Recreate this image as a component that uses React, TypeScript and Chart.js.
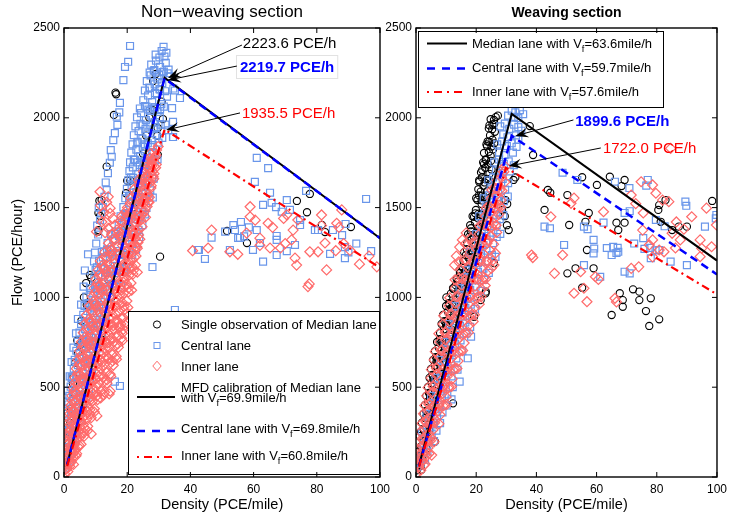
import React, { useEffect, useRef } from 'react';
import { Chart, registerables } from 'chart.js';

Chart.register(...registerables);

const FONT = '"Liberation Sans", Arial, Helvetica, sans-serif';

// ---------- axis ticks ----------
const DENSITY_TICKS = [0, 20, 40, 60, 80, 100];
const FLOW_TICKS = [0, 500, 1000, 1500, 2000, 2500];

// ---------- calibrated MFD lines (density PCE/mile, flow PCE/h) ----------
const leftMedianLineK = [1, 31.81, 100];
const leftMedianLineQ = [69.9, 2223.6, 1330];
const leftCentralLineK = [1, 31.8, 100];
const leftCentralLineQ = [69.8, 2219.7, 1330];
const leftInnerLineK = [1, 31.83, 100];
const leftInnerLineQ = [60.8, 1935.5, 1165];

const rightMedianLineK = [1, 31.8, 100];
const rightMedianLineQ = [63.6, 2022, 1205];
const rightCentralLineK = [1, 31.82, 100];
const rightCentralLineQ = [59.7, 1899.6, 1128];
const rightInnerLineK = [1, 29.9, 100];
const rightInnerLineQ = [57.6, 1722.0, 1017];

// ---------- observations: [density, flow] ----------
const leftMedianObs = [
  [0.3, 78], [0.8, 122], [1.5, 190], [1.5, 250], [2.0, 300], [2.2, 380], [4.0, 280], [2.8, 470], [2.8, 520], [3.0, 560],
  [3.5, 635], [4.4, 690], [4.2, 760], [5.1, 735], [5.5, 870], [6.3, 1000], [7.0, 1080], [6.0, 400], [9.0, 600], [12.0, 800],
  [7.2, 958], [7.6, 950], [8.2, 1125], [8.6, 1110], [15.0, 1000], [14.0, 1100], [18.0, 1200], [10.9, 1375], [10.8, 1366],
  [11.4, 1453], [10.9, 1470], [11.2, 1538], [11.9, 1542], [13.5, 1728], [15.8, 2016], [16.5, 2131], [16.3, 2140],
  [20.0, 1400], [22.0, 1500], [19.6, 1580], [20.0, 1650], [21.0, 1650], [24.6, 1616], [23.4, 1559], [25.0, 1800],
  [26.0, 1900], [27.0, 2000], [29.7, 1793], [29.5, 1900], [29.7, 1943], [31.3, 1993], [28.1, 2043], [30.9, 2090],
  [28.2, 2205], [29.0, 2244], [30.4, 1227], [51.6, 1370], [57.9, 1303], [73.7, 1537], [77.8, 1576], [76.9, 1474],
  [81.6, 1404], [82.6, 1364], [90.8, 1392],
];

const leftCentralObs = [
  [20.9, 2400], [20.3, 2312], [19.3, 2283], [18.8, 2210], [17.7, 2083], [17.5, 2030], [16.9, 1960], [16.7, 2006],
  [16.1, 1915], [15.6, 1876], [15.1, 1783], [14.8, 1820], [14.5, 1750], [13.9, 1692], [13.2, 1640], [13.5, 1598],
  [12.8, 1560], [12.3, 1503], [11.8, 1470], [11.4, 1431], [11.0, 1500], [10.5, 1400], [10.8, 1350], [10.2, 1300],
  [9.8, 1250], [9.5, 1200],
  [31.5, 2395], [30.9, 2372], [31.8, 2341],
  [27.6, 2296], [29.1, 2318], [30.4, 2284], [32.2, 2306], [33.1, 2268], [28.4, 2262], [31.2, 2255],
  [26.2, 2204], [27.4, 2236], [28.7, 2186], [29.6, 2214], [31.1, 2193], [33.4, 2231], [34.6, 2163], [35.1, 2152], [30.2, 2160], [27.0, 2168],
  [25.1, 2098], [26.6, 2124], [27.9, 2087], [29.4, 2133], [30.8, 2076], [36.7, 2110], [34.2, 2054], [32.6, 2118], [26.1, 2062], [28.6, 2058],
  [23.1, 2003], [24.4, 2026], [25.9, 1987], [27.6, 2012], [28.8, 1976], [30.3, 2004], [32.1, 1962], [26.7, 2046], [24.9, 1958], [29.6, 2032],
  [22.1, 1903], [23.6, 1926], [24.8, 1884], [26.4, 1912], [27.9, 1876], [29.3, 1904], [31.1, 1888], [34.5, 1893], [33.0, 1931], [23.2, 1858], [25.6, 1852], [28.4, 1936],
  [21.3, 1806], [22.9, 1823], [24.1, 1787], [25.7, 1813], [26.9, 1776], [28.3, 1804], [29.6, 1768], [23.3, 1752], [22.1, 1768], [27.4, 1838], [25.1, 1756],
  [20.7, 1703], [21.8, 1724], [23.5, 1688], [24.7, 1714], [26.3, 1677], [27.5, 1702], [28.4, 1661], [22.5, 1652], [21.2, 1668], [25.3, 1742], [27.1, 1738],
  [19.9, 1604], [21.4, 1622], [22.9, 1586], [24.6, 1613], [25.8, 1578], [27.3, 1596], [28.1, 1556], [20.6, 1562], [23.6, 1632], [26.4, 1640],
  [18.8, 1503], [20.6, 1524], [21.9, 1487], [23.4, 1513], [24.9, 1476], [26.1, 1498], [19.6, 1458], [22.6, 1544], [25.4, 1538], [20.1, 1470],
  [17.3, 1403], [18.9, 1424], [20.4, 1386], [21.8, 1413], [23.6, 1377], [24.8, 1402], [16.2, 1352], [19.5, 1446], [22.7, 1436], [18.1, 1366],
  [13.8, 1302], [15.6, 1323], [16.9, 1286], [18.4, 1314], [19.8, 1276], [21.6, 1297], [22.8, 1266], [12.6, 1256], [14.6, 1268], [17.4, 1342], [20.6, 1334],
  [11.1, 1204], [12.3, 1223], [13.9, 1187], [15.6, 1213], [16.8, 1176], [18.4, 1198], [19.7, 1166], [12.9, 1158], [14.7, 1243], [17.6, 1236], [10.4, 1168],
  [9.6, 1103], [10.8, 1124], [12.6, 1086], [13.9, 1113], [15.4, 1077], [16.8, 1096], [18.1, 1066], [11.4, 1058], [14.6, 1142], [10.2, 1062],
  [7.1, 1004], [8.4, 1023], [9.9, 987], [11.6, 1012], [12.8, 976], [14.6, 998], [8.9, 958], [10.7, 1046], [13.6, 1040], [7.8, 968],
  [6.1, 903], [7.4, 924], [9.1, 886], [10.4, 913], [11.9, 878], [13.2, 897], [8.2, 858], [9.6, 944], [12.4, 936], [6.8, 862],
  [4.9, 804], [6.6, 823], [7.9, 786], [9.6, 812], [10.8, 777], [12.1, 796], [5.8, 752], [8.7, 842], [11.4, 838], [7.2, 764],
  [3.9, 703], [5.6, 724], [7.1, 687], [8.4, 713], [9.9, 676], [4.8, 658], [6.4, 742], [9.2, 736], [10.6, 716],
  [3.1, 604], [4.4, 623], [5.9, 586], [7.6, 612], [8.8, 577], [2.6, 556], [4.0, 566], [6.6, 642], [8.2, 638],
  [2.1, 503], [3.4, 524], [4.9, 487], [6.6, 512], [7.9, 476], [2.9, 462], [5.6, 546], [7.2, 534],
  [1.4, 404], [2.9, 423], [4.6, 386], [5.9, 413], [2.2, 352], [3.7, 366], [5.1, 444], [6.4, 438],
  [0.9, 303], [2.4, 324], [3.5, 287], [4.9, 312], [1.6, 262], [3.1, 256], [4.2, 344],
  [0.6, 203], [1.5, 224], [2.7, 186], [3.4, 213], [1.1, 158], [2.1, 146],
  [0.2, 104], [1.1, 124], [1.9, 87], [0.5, 52], [0.9, 66],
  [16.1, 531], [17.7, 507], [28.0, 1169], [35.1, 930], [42.7, 1264], [34.5, 1977], [34.5, 1893],
  [61.0, 1777], [64.6, 1720], [60.4, 1643], [65.2, 1583], [70.5, 1542], [76.6, 1593], [67.1, 1503], [71.5, 1487],
  [74.7, 1403], [79.4, 1375], [95.6, 1548], [54.1, 1375], [55.1, 1331], [51.0, 1366], [53.6, 1403], [55.7, 1331],
  [57.0, 1340], [61.0, 1375], [63.0, 1515], [65.7, 1527], [68.9, 1477], [62.0, 1303], [67.3, 1320], [67.3, 1342],
  [73.1, 1292], [70.5, 1258], [67.3, 1236], [63.0, 1199], [59.8, 1264], [46.7, 1333], [42.4, 1264], [44.6, 1214],
  [52.5, 1264], [74.7, 1431], [80.4, 1375], [85.1, 1375], [88.0, 1347], [89.1, 1409], [84.2, 1242], [90.0, 1250],
  [88.9, 1219], [88.9, 1280], [92.5, 1300], [97.2, 1258], [58.5, 1390], [56.0, 1420],
];

const leftCentralObsExtra = [
  [0.4, 152], [1.3, 168], [2.3, 136], [0.7, 252], [1.9, 268], [3.0, 238], [4.1, 256],
  [1.1, 352], [2.6, 368], [3.9, 338], [5.3, 358], [0.8, 420], [1.2, 480], [1.7, 452], [3.1, 468], [4.5, 438], [6.0, 458], [7.1, 446],
  [1.8, 560], [2.4, 552], [3.9, 566], [5.4, 538], [6.9, 558], [8.2, 546], [2.4, 640], [3.4, 652], [5.0, 666], [6.5, 638], [8.0, 658], [9.4, 648],
  [3.0, 720], [3.8, 800], [4.4, 752], [6.0, 766], [7.5, 738], [9.0, 758], [10.5, 748],
  [4.4, 880], [5.4, 852], [7.0, 866], [8.5, 838], [10.1, 858], [11.6, 848], [12.6, 862],
  [5.4, 960], [6.5, 952], [8.1, 966], [9.6, 938], [11.1, 958], [12.6, 948], [13.8, 962],
  [6.2, 1060], [8.2, 1052], [9.8, 1066], [11.3, 1038], [12.9, 1058], [14.4, 1048], [15.8, 1062],
  [6.6, 1150], [10.0, 1152], [11.7, 1166], [13.3, 1138], [14.9, 1158], [16.4, 1148], [17.8, 1162], [19.0, 1142],
  [7.6, 1240], [12.0, 1252], [13.6, 1266], [15.3, 1238], [16.9, 1258], [18.6, 1248], [20.1, 1262], [21.6, 1236],
  [14.8, 1352], [16.4, 1366], [18.0, 1338], [19.6, 1358], [21.2, 1348], [22.6, 1362], [23.8, 1336],
  [17.9, 1452], [19.5, 1466], [21.1, 1438], [22.7, 1458], [24.2, 1448], [25.6, 1462],
  [19.4, 1552], [21.0, 1566], [22.5, 1538], [24.1, 1558], [25.6, 1548], [27.0, 1562],
  [20.3, 1652], [21.9, 1666], [23.4, 1638], [24.9, 1658], [26.6, 1648], [27.9, 1662],
  [20.9, 1752], [22.5, 1766], [24.0, 1738], [25.6, 1758], [27.2, 1748], [28.8, 1762],
  [21.7, 1852], [23.3, 1866], [24.9, 1838], [26.5, 1858], [28.1, 1848], [29.9, 1862],
  [22.6, 1952], [24.2, 1966], [25.8, 1938], [27.4, 1958], [29.0, 1948], [30.6, 1962],
  [24.0, 2052], [25.6, 2066], [27.2, 2038], [28.8, 2058], [30.4, 2048], [31.6, 2062],
  [25.6, 2152], [27.2, 2166], [28.8, 2138], [30.4, 2158], [32.0, 2148],
  [27.1, 2252], [28.6, 2266], [30.1, 2238], [31.6, 2258], [32.8, 2248],
  [29.0, 2352], [30.2, 2336], [32.4, 2362],
];

const leftInnerObs = [
  [0.2, 18], [0.6, 45], [1.2, 30], [0.5, 92], [1.4, 108], [2.3, 84], [1.8, 60], [2.9, 112],
  [0.9, 196], [1.9, 218], [3.1, 184], [4.1, 207], [2.4, 156], [3.6, 148], [4.8, 176],
  [1.5, 302], [2.8, 318], [4.0, 286], [5.3, 309], [6.1, 292], [2.2, 262], [3.4, 344], [4.7, 348],
  [2.1, 398], [3.5, 421], [4.9, 387], [6.3, 412], [7.6, 394], [2.9, 372], [5.8, 442], [7.0, 446], [8.3, 428],
  [2.9, 497], [4.5, 519], [6.1, 488], [7.7, 511], [9.4, 482], [10.2, 503], [3.8, 468], [5.3, 546], [8.5, 542], [14.3, 462], [14.6, 478],
  [3.9, 603], [5.7, 621], [7.3, 588], [8.9, 612], [10.9, 584], [11.6, 606], [4.8, 566], [6.4, 644], [9.7, 646], [12.2, 640],
  [4.9, 701], [6.7, 722], [8.5, 688], [10.3, 712], [12.4, 692], [13.1, 716], [5.8, 666], [7.6, 746], [11.2, 744], [13.8, 746],
  [6.1, 803], [8.1, 821], [9.9, 788], [11.9, 811], [14.3, 792], [15.1, 816], [7.2, 766], [9.0, 846], [12.9, 848], [15.6, 842], [18.4, 800], [19.6, 862],
  [7.1, 902], [9.1, 921], [11.3, 887], [13.3, 912], [15.4, 886], [16.2, 909], [8.2, 864], [10.2, 944], [14.3, 946], [18.6, 890], [19.8, 910],
  [8.9, 1003], [10.9, 1021], [12.9, 991], [14.9, 1012], [17.0, 986], [17.6, 1014], [9.9, 966], [12.0, 1046], [16.0, 1048], [18.2, 1040],
  [10.1, 1102], [12.3, 1121], [14.5, 1089], [16.5, 1111], [18.7, 1086], [19.2, 1114], [11.2, 1066], [13.4, 1146], [17.6, 1148], [20.2, 1140],
  [11.5, 1203], [13.7, 1222], [15.9, 1189], [18.1, 1211], [20.5, 1184], [21.6, 1208], [12.6, 1166], [14.8, 1246], [19.2, 1248], [22.8, 1230], [23.0, 1282],
  [14.1, 1302], [16.3, 1321], [18.5, 1289], [20.7, 1311], [22.6, 1280], [23.4, 1306], [15.2, 1266], [17.4, 1346], [21.6, 1348], [22.2, 1352],
  [16.1, 1402], [18.5, 1421], [20.9, 1389], [22.9, 1411], [24.7, 1394], [17.4, 1366], [19.8, 1446], [23.8, 1444], [21.9, 1372],
  [20.1, 1501], [22.3, 1521], [24.3, 1489], [26.3, 1506], [21.2, 1466], [23.4, 1546], [25.4, 1548], [26.9, 1530],
  [22.1, 1601], [24.1, 1616], [25.9, 1589], [27.5, 1609], [23.2, 1566], [26.2, 1560], [26.7, 1654], [24.0, 1640],
  [25.1, 1701], [26.9, 1721], [28.5, 1689], [27.7, 1747], [26.2, 1672], [28.0, 1700],
  [27.3, 1801], [29.1, 1791], [29.3, 1821], [29.8, 1840], [28.4, 1772],
  [11.4, 1588], [14.0, 1560], [13.5, 1530], [14.6, 1468], [12.5, 1470], [10.3, 1366], [13.0, 1360], [14.0, 1384],
  [15.5, 1440], [12.0, 1420], [14.6, 1497], [11.6, 1512], [13.2, 1418],
  [46.7, 1375], [45.6, 1275], [40.7, 1260], [52.5, 1254], [58.9, 1505], [58.9, 1449], [64.6, 1413], [60.5, 1430],
  [66.0, 1390], [57.8, 1358], [62.0, 1330], [62.0, 1290], [65.2, 1275], [68.5, 1275], [70.0, 1300], [72.0, 1320],
  [72.5, 1375], [73.1, 1219], [73.6, 1180], [77.2, 1060], [77.6, 1075], [77.8, 1254], [80.4, 1254], [81.5, 1459],
  [83.1, 1153], [86.3, 1413], [87.0, 1390], [87.9, 1487], [69.5, 1440], [70.5, 1460], [74.0, 1431], [81.5, 1400],
  [82.6, 1303], [55.0, 1240], [86.0, 1260], [88.5, 1300], [90.5, 1262], [93.5, 1185], [96.5, 1230], [99.0, 1170],
];

const leftInnerObsExtra = [
  [0.9, 48], [1.6, 72], [0.4, 66], [0.5, 148], [1.3, 162], [2.2, 134], [3.0, 158], [4.0, 130],
  [1.2, 248], [2.3, 262], [3.5, 236], [4.6, 256], [5.5, 244], [6.2, 246], [7.4, 258], [8.6, 240],
  [1.8, 352], [3.0, 366], [4.3, 338], [5.6, 358], [6.8, 344], [7.4, 362], [8.2, 350], [9.6, 362], [10.4, 340],
  [2.5, 452], [3.9, 466], [5.4, 438], [6.9, 458], [8.4, 446], [9.2, 462], [10.4, 452], [11.6, 440], [12.6, 458],
  [3.4, 552], [5.0, 566], [6.7, 538], [8.3, 558], [9.9, 546], [11.0, 560], [12.4, 552], [13.6, 540], [14.8, 560],
  [4.4, 652], [6.1, 666], [7.9, 638], [9.6, 658], [11.4, 648], [12.6, 664], [14.0, 660], [15.4, 646], [16.6, 656],
  [5.5, 752], [7.4, 766], [9.3, 738], [11.1, 758], [13.0, 748], [14.4, 762], [15.8, 752], [17.0, 740], [18.4, 758],
  [6.6, 852], [8.6, 866], [10.6, 838], [12.6, 858], [14.6, 848], [16.4, 862], [17.6, 836], [18.0, 852], [19.4, 846],
  [8.0, 952], [10.0, 966], [12.1, 938], [14.1, 958], [16.2, 948], [17.4, 962], [19.0, 950], [20.2, 944],
  [9.5, 1052], [11.6, 1066], [13.7, 1038], [15.7, 1058], [17.8, 1048], [19.0, 1062], [20.4, 1052], [21.4, 1040],
  [10.8, 1152], [13.0, 1166], [15.2, 1138], [17.3, 1158], [19.6, 1148], [20.8, 1162], [22.0, 1152], [23.2, 1140],
  [12.9, 1252], [15.0, 1266], [17.2, 1238], [19.4, 1258], [21.6, 1248], [22.4, 1262],
  [15.1, 1352], [17.4, 1366], [19.7, 1338], [21.8, 1358], [23.6, 1348],
  [18.3, 1452], [20.6, 1466], [22.6, 1438], [24.6, 1458], [25.8, 1446],
  [21.1, 1552], [23.3, 1566], [25.1, 1538], [27.0, 1558],
  [23.6, 1652], [25.5, 1666], [27.2, 1640], [28.4, 1660],
  [26.2, 1752], [28.0, 1766], [29.2, 1740],
];

const leftInnerObsDense = [
  [0.7, 76], [1.9, 82], [3.0, 70], [0.4, 126], [1.6, 122], [2.8, 128], [3.8, 118],
  [1.0, 178], [2.0, 172], [3.3, 180], [4.4, 168], [5.4, 182], [0.7, 226], [1.7, 232], [2.9, 222], [4.0, 230], [5.2, 224], [6.4, 228],
  [1.2, 276], [2.4, 282], [3.7, 272], [5.0, 280], [6.3, 274], [7.5, 282], [1.6, 326], [2.9, 332], [4.4, 322], [5.9, 330], [7.3, 324], [8.6, 330],
  [2.1, 376], [3.6, 382], [5.2, 372], [6.7, 380], [8.2, 374], [9.6, 380], [2.6, 426], [4.2, 432], [5.9, 422], [7.5, 430], [9.1, 424], [10.6, 430],
  [3.2, 476], [4.9, 482], [6.6, 472], [8.3, 480], [10.0, 474], [11.6, 480], [12.8, 472],
  [3.6, 526], [5.5, 532], [7.3, 522], [9.1, 530], [10.9, 524], [12.5, 530], [13.6, 522],
  [4.3, 576], [6.2, 582], [8.1, 572], [9.9, 580], [11.8, 574], [13.5, 580], [14.6, 572],
  [4.8, 626], [6.8, 632], [8.8, 622], [10.7, 630], [12.6, 624], [14.4, 630], [15.6, 622],
  [5.4, 676], [7.4, 682], [9.5, 672], [11.5, 680], [13.5, 674], [15.3, 680], [16.5, 672],
  [5.9, 726], [8.0, 732], [10.1, 722], [12.2, 730], [14.2, 724], [16.1, 730], [17.2, 722],
  [6.6, 776], [8.8, 782], [10.9, 772], [13.0, 780], [15.0, 774], [16.9, 780], [18.2, 772],
  [7.2, 826], [9.4, 832], [11.6, 822], [13.7, 830], [15.8, 824], [17.6, 830], [18.8, 822],
  [7.8, 876], [10.0, 882], [12.2, 872], [14.4, 880], [16.6, 874], [18.4, 880],
  [8.5, 926], [10.7, 932], [13.0, 922], [15.2, 930], [17.3, 924], [19.1, 930],
  [9.3, 976], [11.6, 982], [13.8, 972], [16.1, 980], [18.3, 974], [19.9, 980],
  [9.8, 1026], [12.1, 1032], [14.4, 1022], [16.7, 1030], [18.9, 1024], [20.4, 1030],
  [10.5, 1076], [12.8, 1082], [15.2, 1072], [17.5, 1080], [19.8, 1074], [21.2, 1080],
  [11.2, 1126], [13.6, 1132], [16.0, 1122], [18.3, 1130], [20.6, 1124], [21.8, 1130],
  [12.0, 1176], [14.4, 1182], [16.8, 1172], [19.2, 1180], [21.5, 1174], [22.6, 1180],
  [13.0, 1226], [15.4, 1232], [17.8, 1222], [20.2, 1230], [22.3, 1224],
  [14.5, 1276], [16.9, 1282], [19.3, 1272], [21.6, 1280], [23.2, 1274],
  [15.6, 1326], [18.0, 1332], [20.3, 1322], [22.5, 1330], [24.0, 1324],
  [16.8, 1376], [19.2, 1382], [21.5, 1372], [23.5, 1380], [17.8, 1426], [20.2, 1432], [22.4, 1422], [24.3, 1430],
  [19.4, 1476], [21.6, 1482], [23.7, 1472], [25.5, 1480], [21.0, 1526], [23.0, 1532], [25.0, 1522], [26.6, 1530],
  [22.6, 1576], [24.6, 1582], [26.5, 1572], [23.8, 1626], [25.8, 1632], [27.6, 1622],
  [24.8, 1676], [26.6, 1682], [28.2, 1672], [26.0, 1726], [27.8, 1732], [29.0, 1722], [27.2, 1776], [28.8, 1782],
];

const rightMedianObs = [
  [25.9, 1988], [24.8, 1992], [26.5, 2004], [27.2, 2012], [25.4, 1962],
  [24.2, 1941], [24.6, 1902], [25.4, 1878], [26.2, 1922], [23.8, 1868], [37.8, 1954],
  [22.6, 1804], [24.2, 1811], [24.8, 1788], [25.6, 1824], [23.2, 1765], [23.6, 1842], [38.9, 1793],
  [22.0, 1709], [21.6, 1696], [23.0, 1722], [24.4, 1688], [22.6, 1742], [25.1, 1712],
  [21.5, 1589], [21.0, 1644], [20.7, 1602], [22.4, 1621], [23.6, 1592], [22.0, 1566], [24.2, 1654], [32.4, 1654], [33.0, 1668],
  [20.4, 1542], [19.9, 1487], [21.8, 1520], [23.0, 1491], [23.8, 1512], [20.8, 1466], [29.7, 1542], [28.6, 1487], [29.5, 1452], [30.3, 1520],
  [19.3, 1449], [18.3, 1385], [18.0, 1402], [19.6, 1420], [21.0, 1391], [22.3, 1411], [20.4, 1356], [30.8, 1375], [30.2, 1402],
  [17.7, 1338], [17.0, 1302], [18.4, 1321], [19.8, 1289], [20.8, 1311], [18.6, 1262],
  [16.6, 1236], [15.5, 1171], [15.8, 1203], [17.4, 1221], [18.8, 1191], [19.9, 1214], [25.9, 1191], [17.0, 1160],
  [13.9, 1087], [13.5, 1104], [15.0, 1121], [16.6, 1092], [18.2, 1112], [14.6, 1136], [16.0, 1062],
  [10.1, 1000], [11.6, 1021], [13.2, 988], [14.5, 1011], [12.4, 1046], [11.0, 962], [21.5, 985], [23.1, 1023], [23.2, 1032],
  [9.0, 902], [10.6, 921], [12.5, 889], [11.4, 938], [9.8, 866], [13.6, 918], [19.3, 892],
  [8.0, 802], [9.3, 822], [11.2, 791], [10.0, 846], [8.6, 766], [12.0, 818],
  [6.3, 701], [7.5, 722], [8.8, 689], [7.0, 668], [8.1, 744], [9.6, 712],
  [5.0, 602], [6.2, 621], [7.6, 588], [5.6, 566], [6.8, 640], [8.2, 612],
  [4.0, 501], [5.2, 522], [6.3, 480], [4.6, 466], [5.8, 544], [12.3, 410],
  [3.0, 401], [4.0, 421], [5.3, 388], [3.5, 366], [4.7, 444],
  [2.0, 302], [3.0, 328], [4.2, 291], [2.6, 262], [3.6, 344],
  [1.2, 228], [2.5, 206], [1.8, 172], [0.6, 140], [6.3, 197], [3.2, 236],
  [0.3, 37], [0.8, 90], [1.5, 62], [1.1, 118], [2.1, 104],
  [43.8, 1598], [44.6, 1583], [50.3, 1570], [42.7, 1487], [55.2, 1669], [60.1, 1626], [64.4, 1672], [68.3, 1620],
  [69.3, 1654], [50.9, 1403], [57.4, 1470], [56.3, 1421], [66.6, 1416], [69.3, 1416], [67.2, 1375], [80.8, 1514],
  [82.9, 1542], [80.5, 1487], [81.3, 1421], [85.1, 1375], [87.3, 1394], [90.0, 1394], [98.4, 1537], [56.8, 1264],
  [50.3, 1134], [53.0, 1162], [55.2, 1054], [59.0, 1162], [65.0, 902], [67.7, 1023], [68.7, 985], [68.7, 948],
  [72.1, 1045], [74.2, 1032], [74.2, 985], [76.4, 924], [78.0, 995], [77.5, 841], [80.8, 878],
];

const rightMedianObsExtra = [
  [24.4, 1958], [25.3, 1936], [26.0, 1968], [23.4, 1852], [24.3, 1866], [25.1, 1840], [26.0, 1858],
  [22.3, 1752], [23.2, 1768], [24.0, 1740], [24.9, 1760], [21.0, 1652], [21.9, 1668], [22.8, 1640], [23.6, 1660], [24.6, 1632],
  [20.0, 1552], [20.9, 1568], [21.8, 1540], [22.7, 1560], [23.5, 1548], [18.8, 1452], [19.7, 1468], [20.6, 1440], [21.5, 1460], [22.5, 1446],
  [17.3, 1352], [18.2, 1368], [19.1, 1340], [20.0, 1360], [21.1, 1346], [16.0, 1252], [16.9, 1268], [17.8, 1240], [18.7, 1260], [19.8, 1248],
  [14.5, 1152], [15.4, 1168], [16.3, 1140], [17.2, 1160], [18.4, 1146], [12.3, 1052], [13.2, 1068], [14.1, 1040], [15.1, 1060], [16.4, 1046],
  [10.0, 952], [10.9, 968], [11.8, 940], [12.8, 960], [14.0, 946], [8.5, 852], [9.4, 868], [10.3, 840], [11.3, 860], [12.4, 846],
  [7.0, 752], [7.9, 768], [8.8, 740], [9.8, 760], [10.8, 746], [5.7, 652], [6.6, 668], [7.5, 640], [8.5, 660],
  [4.5, 552], [5.4, 568], [6.3, 540], [7.3, 560], [3.4, 452], [4.3, 468], [5.2, 440], [6.2, 458],
  [2.5, 352], [3.4, 368], [4.3, 340], [5.3, 358], [1.6, 252], [2.5, 268], [3.4, 240], [4.4, 258],
  [0.8, 152], [1.7, 168], [2.6, 140], [3.5, 158], [0.2, 52], [0.9, 68], [1.8, 40],
];

const rightCentralObs = [
  [31.8, 2040], [33.0, 2030], [34.5, 2043], [35.6, 2020], [32.5, 2005], [34.0, 1998], [30.6, 2012],
  [28.0, 1952], [29.5, 1968], [31.0, 1938], [32.6, 1962], [34.0, 1948], [35.0, 1928], [29.0, 1908], [30.4, 1892], [33.2, 1902],
  [27.0, 1852], [28.6, 1868], [30.2, 1842], [31.8, 1858], [33.4, 1838], [34.0, 1878], [27.6, 1806], [29.4, 1792], [32.2, 1806],
  [26.0, 1752], [27.6, 1768], [29.2, 1742], [30.8, 1758], [32.5, 1736], [26.6, 1706], [28.4, 1692], [31.2, 1702],
  [24.0, 1652], [25.6, 1668], [27.2, 1642], [28.8, 1660], [30.6, 1636], [24.8, 1606], [26.4, 1592], [29.6, 1600],
  [22.5, 1552], [24.2, 1568], [25.8, 1542], [27.4, 1560], [29.2, 1536], [30.5, 1562], [23.2, 1506], [25.0, 1492], [28.2, 1500],
  [21.0, 1452], [22.8, 1468], [24.4, 1442], [26.0, 1460], [27.8, 1436], [29.0, 1458], [21.8, 1406], [23.6, 1392], [26.8, 1402],
  [20.0, 1352], [21.8, 1368], [23.4, 1342], [25.0, 1360], [26.8, 1336], [28.0, 1354], [20.6, 1306], [22.4, 1292], [25.6, 1302],
  [18.0, 1252], [19.8, 1268], [21.6, 1242], [23.4, 1260], [25.2, 1236], [26.4, 1226], [18.8, 1206], [20.6, 1192], [24.0, 1202],
  [17.0, 1152], [18.8, 1168], [20.6, 1142], [22.4, 1160], [24.2, 1136], [22.6, 1097], [16.2, 1106], [19.4, 1094],
  [14.5, 1052], [16.2, 1068], [18.0, 1042], [19.8, 1060], [21.5, 1036], [15.2, 1006], [17.0, 992], [20.4, 1002],
  [13.0, 952], [14.6, 968], [16.4, 942], [18.2, 960], [19.6, 936], [13.8, 906], [15.6, 892], [18.6, 900],
  [11.0, 852], [12.8, 868], [14.6, 842], [16.4, 860], [18.0, 836], [11.8, 806], [13.6, 792], [16.8, 800], [18.3, 781],
  [9.5, 752], [11.2, 768], [13.0, 742], [14.8, 760], [10.2, 706], [12.0, 692], [15.4, 700],
  [8.0, 652], [9.8, 668], [11.6, 642], [13.4, 660], [17.2, 661], [8.8, 606], [10.6, 592], [13.8, 598],
  [6.5, 552], [8.2, 568], [10.0, 542], [11.8, 560], [14.5, 531], [7.2, 506], [9.0, 492], [12.2, 500],
  [5.0, 452], [6.8, 468], [8.6, 442], [10.4, 460], [11.8, 432], [5.8, 406], [7.6, 392], [10.2, 398],
  [3.5, 352], [5.2, 368], [7.0, 342], [8.8, 360], [4.2, 306], [6.0, 292], [8.0, 300],
  [2.0, 252], [3.6, 268], [5.2, 242], [6.8, 258], [2.8, 206], [4.4, 192], [6.0, 200],
  [1.0, 152], [2.4, 168], [3.8, 142], [1.6, 104], [3.0, 96], [0.5, 58], [1.5, 76],
  [48.7, 1694], [53.6, 1654], [66.1, 1644], [70.9, 1609], [77.0, 1654], [76.5, 1622], [42.7, 1394], [44.5, 1385],
  [55.8, 1394], [57.0, 1380], [59.0, 1320], [62.3, 1416], [69.3, 1470], [71.0, 1480], [79.7, 1431], [82.6, 1396],
  [89.5, 1533], [89.8, 1510], [96.0, 1394], [99.8, 1459], [99.6, 1440], [65.5, 1282], [67.0, 1276], [63.4, 1275],
  [66.6, 1247], [65.0, 1236], [67.2, 1254], [49.2, 1292], [55.8, 1180], [59.0, 1245], [59.2, 1272], [61.2, 1115],
  [69.3, 1143], [71.0, 1134], [75.9, 1270], [77.8, 1276], [79.6, 1262], [80.8, 1264], [78.0, 1218], [84.6, 1199],
  [90.0, 1180], [72.5, 1300], [75.5, 1330],
];

const rightInnerObs = [
  [0.2, 20], [0.8, 58], [1.6, 38], [2.0, 92], [1.1, 96], [2.6, 66],
  [0.8, 152], [2.0, 172], [3.2, 142], [4.0, 162], [5.2, 122], [1.4, 126], [3.6, 118],
  [1.5, 252], [2.8, 268], [4.2, 242], [5.6, 262], [2.2, 212], [3.8, 206], [5.0, 218],
  [2.5, 352], [4.0, 368], [5.6, 342], [7.0, 362], [8.0, 346], [3.2, 312], [4.8, 306], [6.4, 318],
  [3.5, 452], [5.2, 468], [7.0, 442], [8.6, 462], [10.0, 446], [4.2, 406], [6.0, 398], [7.8, 412], [9.4, 402],
  [5.0, 552], [6.8, 568], [8.6, 542], [10.4, 562], [12.0, 546], [5.8, 506], [7.6, 498], [9.4, 512], [11.0, 502],
  [6.0, 652], [7.8, 668], [9.8, 642], [11.8, 662], [14.0, 646], [6.8, 606], [8.8, 598], [10.8, 612], [12.8, 602],
  [7.9, 752], [9.8, 763], [11.6, 742], [13.6, 762], [16.0, 746], [8.6, 706], [10.6, 698], [12.6, 712], [14.8, 702],
  [9.0, 852], [11.0, 868], [13.2, 842], [15.4, 862], [17.6, 846], [19.0, 866], [10.0, 806], [12.0, 798], [14.2, 812], [16.4, 802],
  [11.0, 952], [13.0, 968], [15.2, 942], [17.4, 962], [19.6, 946], [21.0, 962], [12.0, 906], [14.0, 898], [16.2, 912], [18.4, 902],
  [13.0, 1052], [15.2, 1068], [17.4, 1042], [19.6, 1062], [21.8, 1046], [23.0, 1066], [14.0, 1006], [16.2, 998], [18.4, 1012], [20.6, 1002],
  [12.8, 1180], [15.0, 1152], [17.2, 1168], [19.4, 1142], [21.6, 1162], [23.8, 1146], [25.0, 1162], [25.9, 1180], [14.2, 1106], [16.4, 1098], [18.6, 1112], [20.8, 1102], [22.6, 1110],
  [18.0, 1252], [20.2, 1268], [22.4, 1242], [24.6, 1262], [26.4, 1246], [13.4, 1230], [14.5, 1280], [16.2, 1212], [19.2, 1206], [21.4, 1216], [23.6, 1206],
  [15.4, 1320], [16.7, 1359], [21.0, 1352], [23.0, 1368], [25.0, 1342], [26.8, 1362], [19.6, 1306], [22.0, 1302], [24.0, 1316], [18.2, 1330],
  [23.0, 1452], [24.6, 1468], [26.2, 1442], [27.5, 1462], [22.2, 1406], [24.0, 1398], [25.8, 1412],
  [25.0, 1552], [26.6, 1568], [28.2, 1542], [24.2, 1506], [26.0, 1498], [27.6, 1512],
  [27.0, 1652], [28.4, 1668], [29.5, 1642], [26.2, 1606], [27.8, 1598],
  [29.7, 1728], [29.2, 1700], [28.4, 1710],
  [38.4, 1236], [38.8, 1222], [84.6, 1830],
  [74.8, 1644], [78.6, 1626], [79.7, 1580], [81.9, 1542], [84.0, 1533], [91.6, 1449], [96.5, 1497], [99.8, 1403],
  [62.3, 1477], [52.5, 1553], [51.5, 1524], [44.8, 1449], [71.5, 1570], [73.0, 1522], [75.5, 1470], [75.3, 1375],
  [78.6, 1320], [85.1, 1357], [87.8, 1320], [94.4, 1320], [98.2, 1282], [82.4, 1254], [78.6, 1226], [86.5, 1420],
  [89.0, 1380], [46.0, 1134], [48.7, 1236], [52.5, 1023], [56.8, 976], [55.8, 1051], [54.7, 1143], [59.6, 1115],
  [60.6, 1100], [66.1, 995], [66.6, 975], [71.5, 1162], [74.0, 1170], [77.5, 1292], [80.8, 1264], [86.2, 1275],
  [94.4, 1227], [94.9, 1273],
];

const rightInnerObsDense = [
  [0.6, 76], [1.8, 82], [3.0, 72], [0.6, 126], [1.9, 132], [3.0, 122], [4.3, 130],
  [1.1, 198], [2.4, 204], [3.6, 194], [4.8, 202], [6.0, 196], [2.0, 298], [3.4, 304], [4.8, 294], [6.2, 302], [7.6, 296],
  [2.9, 398], [4.5, 404], [6.1, 394], [7.6, 402], [9.0, 396], [10.2, 404],
  [4.0, 498], [5.7, 504], [7.4, 494], [9.1, 502], [10.7, 496], [11.8, 504],
  [5.1, 598], [6.9, 604], [8.7, 594], [10.5, 602], [12.3, 596], [13.6, 604],
  [6.4, 698], [8.3, 704], [10.2, 694], [12.1, 702], [14.0, 696], [15.5, 704],
  [7.6, 798], [9.6, 804], [11.6, 794], [13.6, 802], [15.6, 796], [17.4, 804],
  [9.2, 898], [11.3, 904], [13.4, 894], [15.5, 902], [17.6, 896], [19.4, 904],
  [11.2, 998], [13.4, 1004], [15.6, 994], [17.8, 1002], [20.0, 996], [21.6, 1004],
  [13.0, 1098], [15.3, 1104], [17.5, 1094], [19.8, 1102], [22.0, 1096], [23.2, 1104],
  [14.2, 1198], [16.6, 1204], [19.0, 1194], [21.4, 1202], [23.6, 1196], [25.4, 1204],
  [16.4, 1298], [18.8, 1304], [21.2, 1294], [23.6, 1302], [25.8, 1296],
  [21.2, 1398], [23.2, 1404], [25.0, 1394], [26.6, 1402], [23.4, 1498], [25.2, 1504], [27.0, 1494], [28.2, 1502],
  [25.2, 1598], [26.8, 1604], [28.6, 1594],
];

// ---------- styles ----------
const MEDIAN_COLOR = '#000000';
const CENTRAL_MARK = '#6A96EA';
const INNER_MARK = '#FF6A6A';
const CENTRAL_LINE = '#0000FF';
const INNER_LINE = '#FF0000';
const DASH = [8, 5];
const DASHDOT = [8, 4, 2, 4];

type Ann = { text: string; color: string; bold: boolean; tk: number; tq: number; fk: number; fq: number; ak: number; aq: number; boxed?: boolean };
type LegItem = { kind: string; y: number; lines: string[]; baselines: number[] };
type Legend = { x: number; y: number; w: number; h: number; symX: number; lx0: number; lx1: number; textX: number; items: LegItem[] };
type Decor = { title: string; titleBold: boolean; titleSize: number; yLabel: string | null; anns: Ann[]; legend: Legend };

const leftDecor: Decor = {
  title: 'Non\u2212weaving section', titleBold: false, titleSize: 17, yLabel: 'Flow (PCE/hour)',
  anns: [
    { text: '2223.6 PCE/h', color: '#000', bold: false, tk: 56.6, tq: 2389, fk: 56.3, fq: 2405, ak: 32.9, aq: 2221 },
    { text: '2219.7 PCE/h', color: '#0000FF', bold: true, tk: 55.7, tq: 2255, fk: 54.7, fq: 2288, ak: 32.9, aq: 2210, boxed: true },
    { text: '1935.5 PCE/h', color: '#FF0000', bold: false, tk: 56.3, tq: 1999, fk: 55.7, fq: 2027, ak: 32.3, aq: 1932 },
  ],
  legend: {
    x: 128.5, y: 311.5, w: 251, h: 163, symX: 157, lx0: 137, lx1: 175, textX: 181,
    items: [
      { kind: 'circle', y: 324.5, lines: ['Single observation of Median lane'], baselines: [329] },
      { kind: 'rect', y: 345.5, lines: ['Central lane'], baselines: [349.5] },
      { kind: 'diamond', y: 366, lines: ['Inner lane'], baselines: [370.5] },
      { kind: 'solid', y: 397, lines: ['MFD calibration of Median lane', 'with V_f=69.9mile/h'], baselines: [391.5, 402] },
      { kind: 'dash', y: 431, lines: ['Central lane with V_f=69.8mile/h'], baselines: [433] },
      { kind: 'dashdot', y: 457, lines: ['Inner lane with V_f=60.8mile/h'], baselines: [459.5] },
    ],
  },
};

const rightDecor: Decor = {
  title: 'Weaving section', titleBold: true, titleSize: 14, yLabel: null,
  anns: [
    { text: '1899.6 PCE/h', color: '#0000FF', bold: true, tk: 52.9, tq: 1954, fk: 52.3, fq: 1988, ak: 33.0, aq: 1899 },
    { text: '1722.0 PCE/h', color: '#FF0000', bold: false, tk: 62.1, tq: 1804, fk: 61.4, fq: 1832, ak: 30.8, aq: 1731 },
  ],
  legend: {
    x: 418.5, y: 31.5, w: 245, h: 76, symX: 447, lx0: 427, lx1: 467, textX: 472,
    items: [
      { kind: 'solid', y: 43.5, lines: ['Median lane with V_f=63.6mile/h'], baselines: [47.8] },
      { kind: 'dash', y: 68.5, lines: ['Central lane with V_f=59.7mile/h'], baselines: [72] },
      { kind: 'dashdot', y: 92, lines: ['Inner lane with V_f=57.6mile/h'], baselines: [95.5] },
    ],
  },
};

function font(size: number, bold = false) {
  return `${bold ? 'bold ' : ''}${size}px ${FONT}`;
}

function richText(ctx: CanvasRenderingContext2D, text: string, x: number, y: number, size: number, color: string, bold = false) {
  const parts = text.split(/(_.)/);
  let cx = x;
  ctx.fillStyle = color;
  ctx.textAlign = 'left';
  ctx.textBaseline = 'alphabetic';
  for (const p of parts) {
    if (!p) continue;
    if (p[0] === '_' && p.length === 2) {
      ctx.font = font(size * 0.72, bold);
      ctx.fillText(p[1], cx, y + size * 0.32);
      cx += ctx.measureText(p[1]).width;
    } else {
      ctx.font = font(size, bold);
      ctx.fillText(p, cx, y);
      cx += ctx.measureText(p).width;
    }
  }
  return cx - x;
}

function drawArrow(ctx: CanvasRenderingContext2D, x1: number, y1: number, x2: number, y2: number) {
  ctx.save();
  ctx.strokeStyle = '#000';
  ctx.fillStyle = '#000';
  ctx.lineWidth = 1;
  const ang = Math.atan2(y2 - y1, x2 - x1);
  const ux = Math.cos(ang), uy = Math.sin(ang);
  const nx = -uy, ny = ux;
  const L = 13, W = 5;
  ctx.beginPath();
  ctx.moveTo(x1, y1);
  ctx.lineTo(x2 - ux * L * 0.6, y2 - uy * L * 0.6);
  ctx.stroke();
  ctx.beginPath();
  ctx.moveTo(x2, y2);
  ctx.lineTo(x2 - ux * L + nx * W, y2 - uy * L + ny * W);
  ctx.lineTo(x2 - ux * L * 0.62, y2 - uy * L * 0.62);
  ctx.lineTo(x2 - ux * L - nx * W, y2 - uy * L - ny * W);
  ctx.closePath();
  ctx.fill();
  ctx.restore();
}

function legendSymbol(ctx: CanvasRenderingContext2D, kind: string, lg: Legend, y: number) {
  ctx.save();
  ctx.setLineDash([]);
  if (kind === 'circle') {
    ctx.strokeStyle = MEDIAN_COLOR; ctx.lineWidth = 1;
    ctx.beginPath(); ctx.arc(lg.symX, y, 3.6, 0, Math.PI * 2); ctx.stroke();
  } else if (kind === 'rect') {
    ctx.strokeStyle = CENTRAL_MARK; ctx.lineWidth = 1;
    ctx.strokeRect(lg.symX - 3, y - 3, 6, 6);
  } else if (kind === 'diamond') {
    ctx.strokeStyle = INNER_MARK; ctx.lineWidth = 1;
    ctx.beginPath();
    ctx.moveTo(lg.symX - 4.2, y); ctx.lineTo(lg.symX, y - 4.8); ctx.lineTo(lg.symX + 4.2, y); ctx.lineTo(lg.symX, y + 4.8);
    ctx.closePath(); ctx.stroke();
  } else {
    if (kind === 'solid') { ctx.strokeStyle = MEDIAN_COLOR; ctx.lineWidth = 2; }
    if (kind === 'dash') { ctx.strokeStyle = CENTRAL_LINE; ctx.lineWidth = 2.5; ctx.setLineDash([8, 7]); }
    if (kind === 'dashdot') { ctx.strokeStyle = INNER_LINE; ctx.lineWidth = 2; ctx.setLineDash([2, 5, 8, 5]); }
    ctx.beginPath(); ctx.moveTo(lg.lx0, y); ctx.lineTo(lg.lx1, y); ctx.stroke();
  }
  ctx.restore();
}

function makeDecor(cfg: Decor) {
  return {
    id: 'decor',
    afterDraw(chart: any) {
      const ctx: CanvasRenderingContext2D = chart.ctx;
      const a = chart.chartArea;
      const xs = chart.scales.x, ys = chart.scales.y;
      ctx.save();

      for (const an of cfg.anns) {
        const tx = xs.getPixelForValue(an.tk), ty = ys.getPixelForValue(an.tq);
        if (an.boxed) {
          ctx.font = font(15, an.bold);
          const w = ctx.measureText(an.text).width;
          ctx.fillStyle = '#fff';
          ctx.strokeStyle = '#e2e2e2';
          ctx.lineWidth = 1;
          ctx.fillRect(tx - 3.5, ty - 16.5, w + 7, 23);
          ctx.strokeRect(tx - 3.5, ty - 16.5, w + 7, 23);
        }
        drawArrow(ctx, xs.getPixelForValue(an.fk), ys.getPixelForValue(an.fq), xs.getPixelForValue(an.ak), ys.getPixelForValue(an.aq));
        richText(ctx, an.text, tx, ty, 15, an.color, an.bold);
      }

      const lg = cfg.legend;
      ctx.fillStyle = '#fff';
      ctx.fillRect(lg.x, lg.y, lg.w, lg.h);
      ctx.strokeStyle = '#000';
      ctx.lineWidth = 1;
      ctx.setLineDash([]);
      ctx.strokeRect(lg.x, lg.y, lg.w, lg.h);
      for (const it of lg.items) {
        legendSymbol(ctx, it.kind, lg, it.y);
        it.lines.forEach((ln, i) => richText(ctx, ln, lg.textX, it.baselines[i], 13, '#000'));
      }

      ctx.strokeStyle = '#000';
      ctx.lineWidth = 1.4;
      ctx.setLineDash([]);
      ctx.strokeRect(a.left, a.top, a.right - a.left, a.bottom - a.top);
      ctx.lineWidth = 1;
      ctx.beginPath();
      for (const v of DENSITY_TICKS) {
        const px = xs.getPixelForValue(v);
        ctx.moveTo(px, a.bottom); ctx.lineTo(px, a.bottom - 5);
        ctx.moveTo(px, a.top); ctx.lineTo(px, a.top + 5);
      }
      for (const v of FLOW_TICKS) {
        const py = ys.getPixelForValue(v);
        ctx.moveTo(a.left, py); ctx.lineTo(a.left + 5, py);
        ctx.moveTo(a.right, py); ctx.lineTo(a.right - 5, py);
      }
      ctx.stroke();

      const cx = (a.left + a.right) / 2;
      ctx.fillStyle = '#000';
      ctx.textAlign = 'center';
      ctx.textBaseline = 'alphabetic';
      ctx.font = font(cfg.titleSize, cfg.titleBold);
      ctx.fillText(cfg.title, cx, 17);
      ctx.font = font(14.5);
      ctx.fillText('Density (PCE/mile)', cx, 508.5);
      if (cfg.yLabel) {
        ctx.save();
        ctx.translate(22, (a.top + a.bottom) / 2);
        ctx.rotate(-Math.PI / 2);
        ctx.font = font(14.5);
        ctx.textAlign = 'center';
        ctx.fillText(cfg.yLabel, 0, 0);
        ctx.restore();
      }
      ctx.restore();
    },
  };
}

function pts(arr: number[][]) {
  return arr.map(([x, y]) => ({ x, y }));
}
function linePts(k: number[], q: number[]) {
  return k.map((x, i) => ({ x, y: q[i] }));
}

type Panel = {
  median: number[][]; central: number[][]; inner: number[][];
  mk: number[]; mq: number[]; ck: number[]; cq: number[]; ik: number[]; iq: number[];
};

function buildConfig(p: Panel, padding: any, yWidth: number, decor: Decor) {
  const tickFont = { family: FONT, size: 12 };
  return {
    type: 'scatter' as const,
    data: {
      datasets: [
        { label: 'Inner fit', data: linePts(p.ik, p.iq), showLine: true, borderColor: INNER_LINE, borderWidth: 2.2, borderDash: DASHDOT, pointRadius: 0, fill: false },
        { label: 'Central fit', data: linePts(p.ck, p.cq), showLine: true, borderColor: CENTRAL_LINE, borderWidth: 2.5, borderDash: DASH, pointRadius: 0, fill: false },
        { label: 'Median fit', data: linePts(p.mk, p.mq), showLine: true, borderColor: MEDIAN_COLOR, borderWidth: 2, pointRadius: 0, fill: false },
        { label: 'Inner lane', data: pts(p.inner), pointStyle: 'rectRot', pointRadius: 5, pointBorderColor: INNER_MARK, pointBackgroundColor: 'rgba(0,0,0,0)', pointBorderWidth: 1.2, showLine: false },
        { label: 'Central lane', data: pts(p.central), pointStyle: 'rect', pointRadius: 4.9, pointBorderColor: CENTRAL_MARK, pointBackgroundColor: 'rgba(0,0,0,0)', pointBorderWidth: 1.2, showLine: false },
        { label: 'Median lane', data: pts(p.median), pointStyle: 'circle', pointRadius: 3.6, pointBorderColor: MEDIAN_COLOR, pointBackgroundColor: 'rgba(0,0,0,0)', pointBorderWidth: 1.1, showLine: false },
      ],
    },
    options: {
      responsive: false,
      animation: false as const,
      events: [] as any[],
      layout: { padding },
      plugins: { legend: { display: false }, tooltip: { enabled: false }, title: { display: false } },
      scales: {
        x: {
          type: 'linear' as const, min: 0, max: 100,
          afterBuildTicks: (s: any) => { s.ticks = DENSITY_TICKS.map((v) => ({ value: v })); },
          afterFit: (s: any) => { s.height = 43; },
          grid: { display: false, drawTicks: false },
          border: { display: false },
          ticks: { font: tickFont, color: '#000', padding: 5, maxRotation: 0, autoSkip: false, callback: (v: any) => String(v) },
        },
        y: {
          type: 'linear' as const, min: 0, max: 2500,
          afterBuildTicks: (s: any) => { s.ticks = FLOW_TICKS.map((v) => ({ value: v })); },
          afterFit: (s: any) => { s.width = yWidth; },
          grid: { display: false, drawTicks: false },
          border: { display: false },
          ticks: { font: tickFont, color: '#000', padding: 4, autoSkip: false, callback: (v: any) => String(v) },
        },
      },
    },
    plugins: [makeDecor(decor)],
  };
}

export default function App() {
  const leftRef = useRef<HTMLCanvasElement>(null);
  const rightRef = useRef<HTMLCanvasElement>(null);

  useEffect(() => {
    const left = new Chart(leftRef.current as HTMLCanvasElement, buildConfig(
      { median: leftMedianObs, central: leftCentralObs.concat(leftCentralObsExtra),
        inner: leftInnerObs.concat(leftInnerObsExtra, leftInnerObsDense),
        mk: leftMedianLineK, mq: leftMedianLineQ, ck: leftCentralLineK, cq: leftCentralLineQ, ik: leftInnerLineK, iq: leftInnerLineQ },
      { left: 0, right: 352, top: 28, bottom: 0 }, 64, leftDecor) as any);
    const right = new Chart(rightRef.current as HTMLCanvasElement, buildConfig(
      { median: rightMedianObs.concat(rightMedianObsExtra), central: rightCentralObs,
        inner: rightInnerObs.concat(rightInnerObsDense),
        mk: rightMedianLineK, mq: rightMedianLineQ, ck: rightCentralLineK, cq: rightCentralLineQ, ik: rightInnerLineK, iq: rightInnerLineQ },
      { left: 380, right: 10, top: 28, bottom: 0 }, 36, rightDecor) as any);
    return () => { left.destroy(); right.destroy(); };
  }, []);

  return (
    <div style={{ position: 'absolute', left: 0, top: 0, width: 732, height: 520, background: '#fff' }}>
      <canvas ref={leftRef} width={732} height={520} style={{ position: 'absolute', left: 0, top: 0 }} />
      <canvas ref={rightRef} width={732} height={520} style={{ position: 'absolute', left: 0, top: 0 }} />
    </div>
  );
}
